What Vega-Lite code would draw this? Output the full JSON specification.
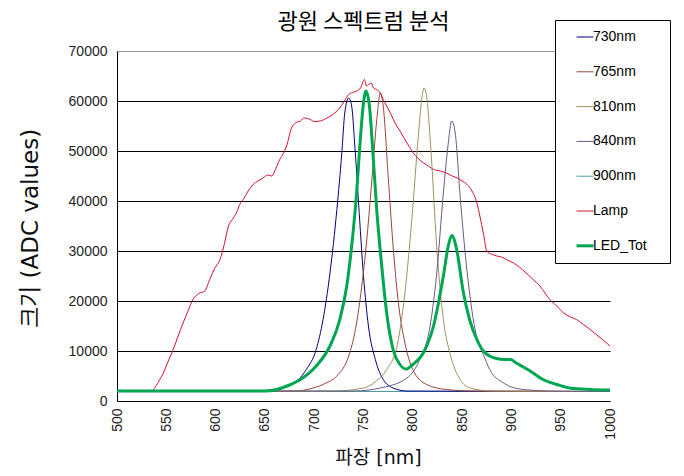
{
  "$schema": "https://vega.github.io/schema/vega-lite/v6.json",
  "width": 493,
  "height": 350,
  "autosize": {"type": "none"},
  "padding": {"left": 117, "top": 51, "right": 74, "bottom": 75},
  "background": "white",
  "title": {"text": "광원 스펙트럼 분석", "font": "Noto Sans CJK KR", "fontSize": 22, "fontWeight": "normal", "anchor": "middle", "frame": "group", "offset": -14, "color": "black"},
  "data": {"values": [
    {"s":"900nm","nm":500,"v":1900},{"s":"900nm","nm":1000,"v":1900},
    {"s":"730nm","nm":500,"v":2000},{"s":"730nm","nm":640,"v":2000},{"s":"730nm","nm":660,"v":2300},{"s":"730nm","nm":675,"v":3300},{"s":"730nm","nm":684,"v":4300},{"s":"730nm","nm":692,"v":6300},{"s":"730nm","nm":702,"v":10300},{"s":"730nm","nm":709,"v":16300},{"s":"730nm","nm":716,"v":25600},{"s":"730nm","nm":723,"v":38300},{"s":"730nm","nm":728,"v":49600},{"s":"730nm","nm":731,"v":57600},{"s":"730nm","nm":735,"v":60600},{"s":"730nm","nm":738,"v":59000},{"s":"730nm","nm":741,"v":51600},{"s":"730nm","nm":745,"v":39600},{"s":"730nm","nm":750,"v":25000},{"s":"730nm","nm":755,"v":15000},{"s":"730nm","nm":762,"v":8300},{"s":"730nm","nm":770,"v":4300},{"s":"730nm","nm":780,"v":2600},{"s":"730nm","nm":794,"v":2000},{"s":"730nm","nm":1000,"v":1900},
    {"s":"765nm","nm":500,"v":2000},{"s":"765nm","nm":680,"v":2000},{"s":"765nm","nm":699,"v":2600},{"s":"765nm","nm":712,"v":3600},{"s":"765nm","nm":723,"v":5000},{"s":"765nm","nm":736,"v":9600},{"s":"765nm","nm":742,"v":14500},{"s":"765nm","nm":746.5,"v":20300},{"s":"765nm","nm":753,"v":31600},{"s":"765nm","nm":758,"v":43000},{"s":"765nm","nm":763.5,"v":56300},{"s":"765nm","nm":767,"v":61600},{"s":"765nm","nm":770,"v":59000},{"s":"765nm","nm":775,"v":45000},{"s":"765nm","nm":780,"v":31000},{"s":"765nm","nm":785,"v":20300},{"s":"765nm","nm":792,"v":11600},{"s":"765nm","nm":800,"v":6300},{"s":"765nm","nm":814,"v":3300},{"s":"765nm","nm":834,"v":2300},{"s":"765nm","nm":860,"v":2000},{"s":"765nm","nm":1000,"v":1900},
    {"s":"810nm","nm":500,"v":2000},{"s":"810nm","nm":720,"v":2000},{"s":"810nm","nm":750,"v":2600},{"s":"810nm","nm":763,"v":4000},{"s":"810nm","nm":773.5,"v":6300},{"s":"810nm","nm":784,"v":11000},{"s":"810nm","nm":792,"v":21600},{"s":"810nm","nm":799,"v":36300},{"s":"810nm","nm":805.6,"v":53000},{"s":"810nm","nm":809,"v":60300},{"s":"810nm","nm":811.4,"v":62600},{"s":"810nm","nm":814,"v":61000},{"s":"810nm","nm":819,"v":48300},{"s":"810nm","nm":824,"v":31600},{"s":"810nm","nm":831,"v":16300},{"s":"810nm","nm":838,"v":9300},{"s":"810nm","nm":848,"v":4300},{"s":"810nm","nm":858,"v":2600},{"s":"810nm","nm":880,"v":2000},{"s":"810nm","nm":1000,"v":1900},
    {"s":"840nm","nm":500,"v":2000},{"s":"840nm","nm":740,"v":2000},{"s":"840nm","nm":767,"v":2600},{"s":"840nm","nm":794,"v":4600},{"s":"840nm","nm":807,"v":8300},{"s":"840nm","nm":817.5,"v":15000},{"s":"840nm","nm":824,"v":25000},{"s":"840nm","nm":831,"v":41600},{"s":"840nm","nm":836,"v":51600},{"s":"840nm","nm":839.4,"v":56000},{"s":"840nm","nm":843,"v":53600},{"s":"840nm","nm":848,"v":41000},{"s":"840nm","nm":851,"v":34000},{"s":"840nm","nm":855,"v":26000},{"s":"840nm","nm":858,"v":21000},{"s":"840nm","nm":862,"v":15500},{"s":"840nm","nm":866,"v":12000},{"s":"840nm","nm":871.5,"v":9300},{"s":"840nm","nm":878,"v":6300},{"s":"840nm","nm":892,"v":3600},{"s":"840nm","nm":912,"v":2300},{"s":"840nm","nm":940,"v":2000},{"s":"840nm","nm":1000,"v":1900},
    {"s":"Lamp","nm":500,"v":2000},{"s":"Lamp","nm":535,"v":2000},{"s":"Lamp","nm":537,"v":2300},{"s":"Lamp","nm":541,"v":3500},{"s":"Lamp","nm":547,"v":5600},{"s":"Lamp","nm":552,"v":8000},{"s":"Lamp","nm":557,"v":10300},{"s":"Lamp","nm":562,"v":13000},{"s":"Lamp","nm":567,"v":15600},{"s":"Lamp","nm":572,"v":18000},{"s":"Lamp","nm":577,"v":20300},{"s":"Lamp","nm":583,"v":21500},{"s":"Lamp","nm":589,"v":22000},{"s":"Lamp","nm":594,"v":24300},{"s":"Lamp","nm":599,"v":26500},{"s":"Lamp","nm":604.5,"v":28300},{"s":"Lamp","nm":609,"v":31500},{"s":"Lamp","nm":613,"v":35000},{"s":"Lamp","nm":617,"v":36300},{"s":"Lamp","nm":621,"v":37600},{"s":"Lamp","nm":625,"v":39500},{"s":"Lamp","nm":628,"v":40300},{"s":"Lamp","nm":633,"v":42000},{"s":"Lamp","nm":638,"v":43300},{"s":"Lamp","nm":643,"v":44000},{"s":"Lamp","nm":648,"v":44600},{"s":"Lamp","nm":653,"v":45200},{"s":"Lamp","nm":657,"v":45000},{"s":"Lamp","nm":660,"v":46000},{"s":"Lamp","nm":665,"v":48300},{"s":"Lamp","nm":669,"v":49600},{"s":"Lamp","nm":672,"v":51000},{"s":"Lamp","nm":677,"v":54600},{"s":"Lamp","nm":681,"v":55600},{"s":"Lamp","nm":686,"v":56000},{"s":"Lamp","nm":690,"v":56600},{"s":"Lamp","nm":696,"v":56300},{"s":"Lamp","nm":700,"v":55900},{"s":"Lamp","nm":706,"v":56000},{"s":"Lamp","nm":712,"v":56500},{"s":"Lamp","nm":719,"v":57300},{"s":"Lamp","nm":723,"v":58000},{"s":"Lamp","nm":726,"v":58600},{"s":"Lamp","nm":730,"v":59800},{"s":"Lamp","nm":735,"v":61300},{"s":"Lamp","nm":739,"v":61700},{"s":"Lamp","nm":743,"v":62000},{"s":"Lamp","nm":747,"v":62600},{"s":"Lamp","nm":751,"v":64300},{"s":"Lamp","nm":753,"v":63000},{"s":"Lamp","nm":755,"v":63300},{"s":"Lamp","nm":758,"v":63600},{"s":"Lamp","nm":760,"v":62600},{"s":"Lamp","nm":763,"v":62300},{"s":"Lamp","nm":767,"v":61600},{"s":"Lamp","nm":770,"v":60300},{"s":"Lamp","nm":773.5,"v":59000},{"s":"Lamp","nm":778,"v":57300},{"s":"Lamp","nm":782,"v":55600},{"s":"Lamp","nm":787,"v":54000},{"s":"Lamp","nm":792,"v":52300},{"s":"Lamp","nm":796,"v":51000},{"s":"Lamp","nm":800.5,"v":49600},{"s":"Lamp","nm":805,"v":48600},{"s":"Lamp","nm":811,"v":47600},{"s":"Lamp","nm":816,"v":47000},{"s":"Lamp","nm":821,"v":46300},{"s":"Lamp","nm":828,"v":46000},{"s":"Lamp","nm":834,"v":45600},{"s":"Lamp","nm":840,"v":45000},{"s":"Lamp","nm":845,"v":44600},{"s":"Lamp","nm":850,"v":44000},{"s":"Lamp","nm":855,"v":43300},{"s":"Lamp","nm":860,"v":42000},{"s":"Lamp","nm":865,"v":39600},{"s":"Lamp","nm":868,"v":37000},{"s":"Lamp","nm":871.5,"v":33600},{"s":"Lamp","nm":875,"v":30000},{"s":"Lamp","nm":877,"v":29600},{"s":"Lamp","nm":881,"v":29300},{"s":"Lamp","nm":885,"v":29000},{"s":"Lamp","nm":890,"v":28800},{"s":"Lamp","nm":895,"v":28300},{"s":"Lamp","nm":902,"v":27600},{"s":"Lamp","nm":908,"v":26800},{"s":"Lamp","nm":915,"v":25600},{"s":"Lamp","nm":922,"v":24300},{"s":"Lamp","nm":929,"v":23000},{"s":"Lamp","nm":934,"v":21600},{"s":"Lamp","nm":939,"v":20300},{"s":"Lamp","nm":946,"v":19000},{"s":"Lamp","nm":953,"v":17600},{"s":"Lamp","nm":960,"v":16800},{"s":"Lamp","nm":966,"v":16300},{"s":"Lamp","nm":973,"v":15300},{"s":"Lamp","nm":980,"v":14300},{"s":"Lamp","nm":986,"v":13300},{"s":"Lamp","nm":993,"v":12200},{"s":"Lamp","nm":1000,"v":11000},
    {"s":"LED_Tot","nm":500,"v":2000},{"s":"LED_Tot","nm":650,"v":2000},{"s":"LED_Tot","nm":662,"v":2300},{"s":"LED_Tot","nm":675,"v":3200},{"s":"LED_Tot","nm":686,"v":4300},{"s":"LED_Tot","nm":702,"v":7000},{"s":"LED_Tot","nm":716,"v":11000},{"s":"LED_Tot","nm":726,"v":16300},{"s":"LED_Tot","nm":733,"v":23000},{"s":"LED_Tot","nm":738,"v":31000},{"s":"LED_Tot","nm":743,"v":41600},{"s":"LED_Tot","nm":746.5,"v":51600},{"s":"LED_Tot","nm":750,"v":59600},{"s":"LED_Tot","nm":752.5,"v":62000},{"s":"LED_Tot","nm":756,"v":59000},{"s":"LED_Tot","nm":760,"v":48300},{"s":"LED_Tot","nm":763.4,"v":38300},{"s":"LED_Tot","nm":768.5,"v":27000},{"s":"LED_Tot","nm":773.5,"v":17600},{"s":"LED_Tot","nm":780,"v":10300},{"s":"LED_Tot","nm":787,"v":7300},{"s":"LED_Tot","nm":793,"v":6400},{"s":"LED_Tot","nm":800,"v":7300},{"s":"LED_Tot","nm":810.7,"v":9600},{"s":"LED_Tot","nm":821,"v":15000},{"s":"LED_Tot","nm":831,"v":25000},{"s":"LED_Tot","nm":836,"v":31000},{"s":"LED_Tot","nm":839.5,"v":33100},{"s":"LED_Tot","nm":844.5,"v":30300},{"s":"LED_Tot","nm":851,"v":22000},{"s":"LED_Tot","nm":858,"v":16000},{"s":"LED_Tot","nm":865,"v":12300},{"s":"LED_Tot","nm":871.5,"v":10000},{"s":"LED_Tot","nm":878,"v":9000},{"s":"LED_Tot","nm":885,"v":8500},{"s":"LED_Tot","nm":892,"v":8300},{"s":"LED_Tot","nm":899,"v":8300},{"s":"LED_Tot","nm":905,"v":7600},{"s":"LED_Tot","nm":912,"v":6800},{"s":"LED_Tot","nm":919,"v":6000},{"s":"LED_Tot","nm":932,"v":4300},{"s":"LED_Tot","nm":946,"v":3300},{"s":"LED_Tot","nm":959,"v":2600},{"s":"LED_Tot","nm":980,"v":2300},{"s":"LED_Tot","nm":1000,"v":2200}
  ]},
  "mark": {"type": "line", "interpolate": "monotone", "clip": true},
  "encoding": {
    "x": {"field": "nm", "type": "quantitative",
      "scale": {"domain": [500, 1000], "nice": false, "zero": false},
      "axis": {"values": [500,550,600,650,700,750,800,850,900,950,1000], "format": "d", "labelAngle": -90, "labelPadding": 7, "labelFlush": false, "labelOverlap": false, "grid": false,
        "title": "파장 [nm]", "titleFontSize": 19, "titleX": 261, "titleY": 56, "titleBaseline": "middle", "titleAlign": "center"}},
    "y": {"field": "v", "type": "quantitative",
      "scale": {"domain": [0, 70000], "nice": false},
      "axis": {"values": [0,10000,20000,30000,40000,50000,60000,70000], "format": "d", "labelPadding": 10, "labelFlush": false, "grid": true,
        "gridColor": {"condition": {"test": "datum.value == 70000", "value": "#999999"}, "value": "black"},
        "title": "크기 (ADC values)", "titleFontSize": 23, "titleX": -87, "titleY": 177, "titleBaseline": "middle", "titleAlign": "center"}},
    "color": {"field": "s", "type": "nominal",
      "scale": {"domain": ["730nm","765nm","810nm","840nm","900nm","Lamp","LED_Tot"], "range": ["#000080","#9a4438","#a09060","#6a5a86","#4a9aaa","#d4102a","#00a651"]},
      "legend": {"title": "\u200b", "titleOrient": "right", "titlePadding": 13, "titleFontSize": 14,
        "encode": {"symbols": {"update": {"strokeWidth": {"signal": "datum.value === 'LED_Tot' ? 3 : 1"}}}}}},
    "strokeWidth": {"condition": {"test": "datum.s === 'LED_Tot'", "value": 3}, "value": 1}
  },
  "config": {
    "view": {"stroke": null},
    "axis": {"labelFont": "Liberation Sans", "labelFontSize": 14, "labelColor": "#222222", "ticks": false, "domainColor": "black", "domainWidth": 1, "gridWidth": 1,
      "titleFont": "DejaVu Sans, Noto Sans CJK KR", "titleFontWeight": "normal", "titleColor": "#111111"},
    "legend": {"orient": "none", "legendX": 438, "legendY": -31, "strokeColor": "black", "fillColor": "white", "padding": 10,
      "symbolType": "stroke", "symbolSize": 289, "symbolOffset": 13, "labelOffset": 1, "rowPadding": 20.8,
      "labelFont": "Liberation Sans", "labelFontSize": 14, "labelColor": "black"}
  }
}
